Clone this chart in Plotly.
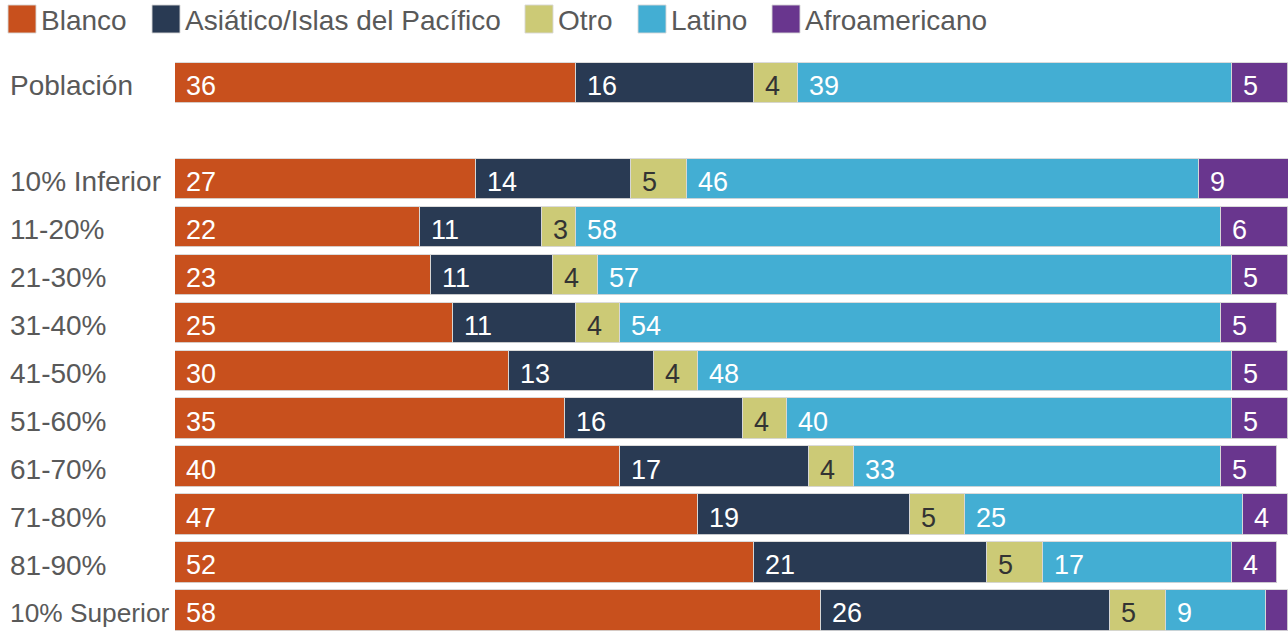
import plotly.graph_objects as go

# Row labels (top to bottom); "Población" sits apart from the deciles
rows = ["Población", "10% Inferior", "11-20%", "21-30%", "31-40%", "41-50%",
        "51-60%", "61-70%", "71-80%", "81-90%", "10% Superior"]
row_pos = [0, 2, 3, 4, 5, 6, 7, 8, 9, 10, 11]

groups = ["Blanco", "Asiático/Islas del Pacífico", "Otro", "Latino", "Afroamericano"]

blanco = [36, 27, 22, 23, 25, 30, 35, 40, 47, 52, 58]
asiatico = [16, 14, 11, 11, 11, 13, 16, 17, 19, 21, 26]
otro = [4, 5, 3, 4, 4, 4, 4, 4, 5, 5, 5]
latino = [39, 46, 58, 57, 54, 48, 40, 33, 25, 17, 9]
afro = [5, 9, 6, 5, 5, 5, 5, 5, 4, 4, 2]

series = [blanco, asiatico, otro, latino, afro]
colors = ["#C8501D", "#293A53", "#CCCA76", "#43AED3", "#69368E"]
label_colors = ["white", "white", "#333333", "white", "white"]

FONT = "Liberation Sans, Arial, sans-serif"
W, H = 1288, 632
ML, MT = 175, 59
PW, PH = W - ML, H - MT


def px_x(px):
    return (px - ML) / PW


def px_y(py):
    return (H - py) / PH


fig = go.Figure()
for name, vals, col in zip(groups, series, colors):
    fig.add_trace(go.Bar(
        y=row_pos, x=vals, name=name, orientation="h",
        marker=dict(color=col, line=dict(color="rgba(215,215,215,0.9)", width=1)),
        width=0.84, showlegend=False, hoverinfo="x+name",
    ))

annotations = []
# value labels at the start of each segment
for i in range(len(rows)):
    base = 0
    for vals, lc in zip(series, label_colors):
        v = vals[i]
        if v >= 3:
            annotations.append(dict(
                x=base, y=row_pos[i], xref="x", yref="y", text=str(v),
                showarrow=False, xanchor="left", yanchor="middle",
                xshift=9, yshift=-3,
                font=dict(family=FONT, size=27, color=lc),
            ))
        base += v

# row labels, left aligned; the last one is set a touch smaller to clear the bar
for k, (r, p) in enumerate(zip(rows, row_pos)):
    size = 26.3 if k == len(rows) - 1 else 28
    annotations.append(dict(
        x=px_x(8), y=p, xref="paper", yref="y", text=r, showarrow=False,
        xanchor="left", yanchor="middle", yshift=-3,
        font=dict(family=FONT, size=size, color="#595959"),
    ))

# legend with large swatches
shapes = []
sq_x = [8, 152, 525, 638, 772]
for name, col, sx in zip(groups, colors, sq_x):
    shapes.append(dict(
        type="rect", xref="paper", yref="paper",
        x0=px_x(sx), x1=px_x(sx + 28), y0=px_y(33), y1=px_y(5),
        fillcolor=col, line=dict(color="rgba(215,215,215,0.9)", width=1),
    ))
    annotations.append(dict(
        x=px_x(sx + 31), y=px_y(21), xref="paper", yref="paper", text=name,
        showarrow=False, xanchor="left", yanchor="middle",
        font=dict(family=FONT, size=28, color="#595959"),
    ))

fig.update_layout(
    width=W, height=H, barmode="stack",
    margin=dict(l=ML, r=0, t=MT, b=0, pad=0),
    paper_bgcolor="white", plot_bgcolor="white",
    xaxis=dict(range=[0, 100], visible=False, fixedrange=True),
    yaxis=dict(range=[11.45, -0.5], visible=False, fixedrange=True),
    annotations=annotations, shapes=shapes,
    bargap=0,
)

fig.write_html("out.html")
